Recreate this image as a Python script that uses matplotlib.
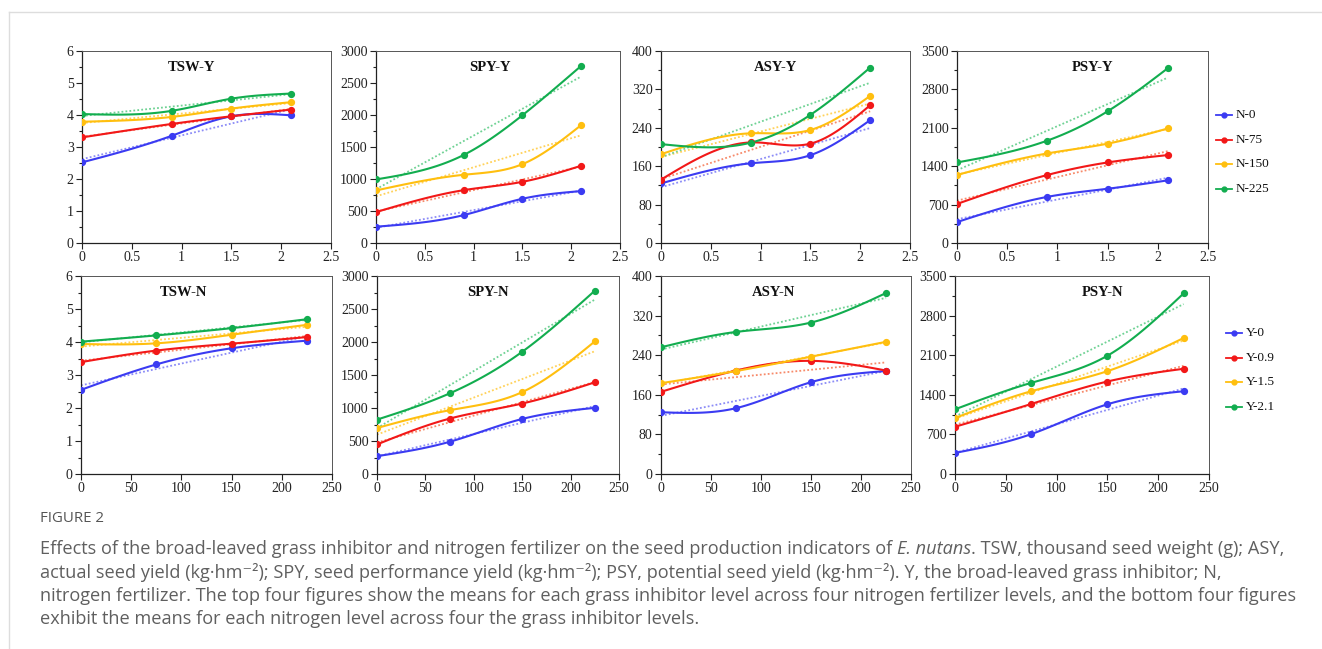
import numpy as np
import matplotlib
matplotlib.use("Agg")
import matplotlib.pyplot as plt
from matplotlib.ticker import MultipleLocator, AutoMinorLocator
from matplotlib.lines import Line2D

# ---- data ----
y_levels = [0, 0.9, 1.5, 2.1]          # grass inhibitor
n_levels = [0, 75, 150, 225]           # nitrogen
n_names = ["N-0", "N-75", "N-150", "N-225"]
y_names = ["Y-0", "Y-0.9", "Y-1.5", "Y-2.1"]

# top row: series per N level, x = inhibitor
tsw_y = [[2.52, 3.35, 3.96, 3.99],
         [3.30, 3.72, 3.96, 4.17],
         [3.79, 3.94, 4.20, 4.40],
         [4.03, 4.13, 4.51, 4.67]]
spy_y = [[255, 437, 691, 811],
         [483, 826, 956, 1206],
         [821, 1066, 1232, 1840],
         [993, 1377, 1996, 2765]]
asy_y = [[124, 166, 183, 256],
         [132, 209.5, 207, 287],
         [185, 228.5, 235.5, 306.5],
         [206, 209, 267, 365.5]]
psy_y = [[381, 841, 989, 1142],
         [712, 1240, 1468, 1603],
         [1240, 1633, 1811, 2088],
         [1468, 1867, 2401, 3187]]

# bottom row: series per Y level, x = nitrogen
tsw_n = [[2.55, 3.32, 3.81, 4.04],
         [3.39, 3.74, 3.95, 4.15],
         [3.94, 3.96, 4.22, 4.52],
         [4.01, 4.20, 4.42, 4.69]]
spy_n = [[270, 488, 834, 1002],
         [448, 839, 1068, 1389],
         [697, 966, 1241, 2009],
         [824, 1221, 1852, 2777]]
asy_n = [[124.8, 133, 185.5, 208],
         [166, 209, 228.6, 209],
         [183.5, 208, 237, 267],
         [256, 287, 306, 365.6]]
psy_n = [[373, 705, 1232, 1463],
         [835, 1238, 1635, 1860],
         [989, 1463, 1818, 2404],
         [1143, 1611, 2091, 3192]]

colors = ["#3b3bf2", "#f21818", "#ffbf0f", "#12ad4f"]
trend_colors = ["#8c8cf7", "#f78a6a", "#ffd25a", "#6fd294"]

W, H = 1322, 649
SERIF = "Liberation Serif"


def natural_spline(x, y, n=120):
    x = np.asarray(x, float)
    y = np.asarray(y, float)
    k = len(x)
    h = np.diff(x)
    A = np.zeros((k, k))
    r = np.zeros(k)
    A[0, 0] = A[-1, -1] = 1
    for i in range(1, k - 1):
        A[i, i - 1] = h[i - 1]
        A[i, i] = 2 * (h[i - 1] + h[i])
        A[i, i + 1] = h[i]
        r[i] = 6 * ((y[i + 1] - y[i]) / h[i] - (y[i] - y[i - 1]) / h[i - 1])
    M = np.linalg.solve(A, r)
    xs = np.linspace(x[0], x[-1], n)
    idx = np.clip(np.searchsorted(x, xs) - 1, 0, k - 2)
    x0, x1 = x[idx], x[idx + 1]
    hh = x1 - x0
    a = (x1 - xs) / hh
    b = (xs - x0) / hh
    ys = (a * y[idx] + b * y[idx + 1]
          + ((a ** 3 - a) * M[idx] + (b ** 3 - b) * M[idx + 1]) * hh ** 2 / 6)
    return xs, ys


def px_axes(fig, left, top, right, bottom):
    return fig.add_axes([left / W, 1 - bottom / H, (right - left) / W, (bottom - top) / H])


def draw_panel(ax, x, series, title, tx, ymax, ystep, xmax, xstep):
    for i, vals in enumerate(series):
        coef = np.polyfit(x, vals, 1)
        xt = np.array([x[0], x[-1]])
        ax.plot(xt, np.polyval(coef, xt), ls=(0, (1, 1.2)), lw=1.3,
                color=trend_colors[i], zorder=2)
        xs, ys = natural_spline(x, vals)
        ax.plot(xs, ys, color=colors[i], lw=1.5, zorder=3)
        ax.plot(x, vals, "o", color=colors[i], ms=4.2, zorder=4)
    ax.set_xlim(0, xmax)
    ax.set_ylim(0, ymax)
    ax.xaxis.set_major_locator(MultipleLocator(xstep))
    ax.yaxis.set_major_locator(MultipleLocator(ystep))
    ax.yaxis.set_minor_locator(AutoMinorLocator(2))
    ax.tick_params(which="major", direction="out", length=4, width=0.8,
                   labelsize=10, pad=2, colors="#222222")
    ax.tick_params(which="minor", direction="out", length=2.5, width=0.8, colors="#222222")
    for lab in ax.get_xticklabels() + ax.get_yticklabels():
        lab.set_fontfamily(SERIF)
    for s in ["left", "bottom"]:
        ax.spines[s].set_color("#222222")
        ax.spines[s].set_linewidth(0.9)
    for s in ["top", "right"]:
        ax.spines[s].set_color("#555555")
        ax.spines[s].set_linewidth(0.7)
    ax.text(tx, 0.915, title, transform=ax.transAxes, ha="center", va="center",
            fontsize=10.5, fontweight="bold", fontfamily=SERIF, color="#111111")
    ax.xaxis.set_major_formatter(plt.FuncFormatter(lambda v, p: f"{v:g}"))


fig = plt.figure(figsize=(W / 100, H / 100), dpi=100)
fig.patch.set_facecolor("white")

# card frame
fig.add_artist(Line2D([9 / W, 1], [1 - 12 / H, 1 - 12 / H], color="#dddddd", lw=1))
fig.add_artist(Line2D([9 / W, 9 / W], [1 - 12 / H, 0], color="#dddddd", lw=1))

top = [(82, 51, 331, 243), (376, 51, 620, 243), (661, 51, 910, 243), (957, 51, 1208, 243)]
bot = [(81, 276, 332, 474), (377, 276, 619, 474), (661, 276, 911, 474), (955, 276, 1209, 474)]

panels_top = [(tsw_y, "TSW-Y", 0.44, 6, 1), (spy_y, "SPY-Y", 0.467, 3000, 500),
              (asy_y, "ASY-Y", 0.46, 400, 80), (psy_y, "PSY-Y", 0.54, 3500, 700)]
panels_bot = [(tsw_n, "TSW-N", 0.41, 6, 1), (spy_n, "SPY-N", 0.46, 3000, 500),
              (asy_n, "ASY-N", 0.45, 400, 80), (psy_n, "PSY-N", 0.58, 3500, 700)]

for box, (data, t, tx, ym, ys) in zip(top, panels_top):
    ax = px_axes(fig, *box)
    draw_panel(ax, y_levels, data, t, tx, ym, ys, 2.5, 0.5)
for box, (data, t, tx, ym, ys) in zip(bot, panels_bot):
    ax = px_axes(fig, *box)
    draw_panel(ax, n_levels, data, t, tx, ym, ys, 250, 50)


# legends
def legend(names, x0, ys):
    for c, name, yy in zip(colors, names, ys):
        fy = 1 - yy / H
        fig.add_artist(Line2D([x0 / W, (x0 + 16) / W], [fy, fy], color=c, lw=1.3))
        fig.add_artist(Line2D([(x0 + 8) / W], [fy], marker="o", ms=3.5, color=c, lw=0))
        fig.text((x0 + 20) / W, fy, name, fontsize=9.5, fontfamily=SERIF,
                 va="center", ha="left", color="#111111")


legend(n_names, 1216, [115, 140, 164, 189])
legend(y_names, 1226, [333, 358, 382, 407])

# caption
CAP = ["Open Sans", "DejaVu Sans"]
cap_col = "#5f5f5f"
fig.text(40 / W, 1 - 518 / H, "FIGURE 2", fontsize=10.8, fontfamily=CAP,
         color="#555555", va="center")

renderer = fig.canvas.get_renderer()


def caption_line(pieces, y):
    x = 40
    for txt, style in pieces:
        t = fig.text(x / W, 1 - y / H, txt, fontsize=13.1, fontfamily=CAP,
                     style=style, color=cap_col, va="center", ha="left")
        x += t.get_window_extent(renderer).width


caption_line([("Effects of the broad-leaved grass inhibitor and nitrogen fertilizer on the seed production indicators of ", "normal"),
              ("E. nutans", "italic"),
              (". TSW, thousand seed weight (g); ASY,", "normal")], 549)
caption_line([("actual seed yield (kg·hm⁻²); SPY, seed performance yield (kg·hm⁻²); PSY, potential seed yield (kg·hm⁻²). Y, the broad-leaved grass inhibitor; N,", "normal")], 572)
caption_line([("nitrogen fertilizer. The top four figures show the means for each grass inhibitor level across four nitrogen fertilizer levels, and the bottom four figures", "normal")], 596)
caption_line([("exhibit the means for each nitrogen level across four the grass inhibitor levels.", "normal")], 619)

fig.savefig("out.png", dpi=100)
